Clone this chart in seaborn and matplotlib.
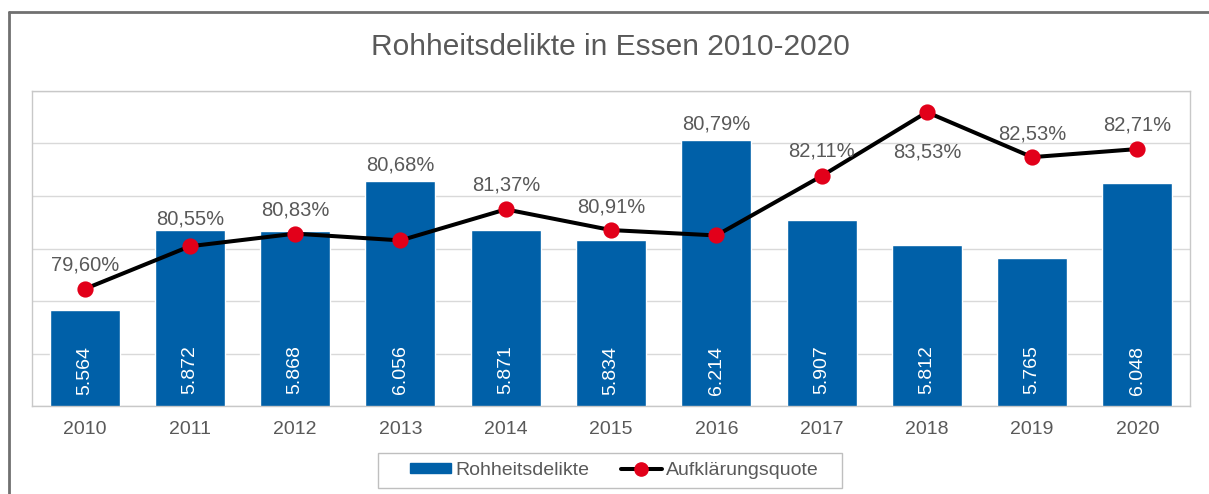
import matplotlib
matplotlib.use('Agg')
import matplotlib.pyplot as plt
from matplotlib.lines import Line2D
from matplotlib.patches import Patch, Rectangle
from matplotlib.ticker import MultipleLocator
import seaborn as sns
import pandas as pd

# Daten
jahre = ['2010', '2011', '2012', '2013', '2014', '2015', '2016', '2017', '2018', '2019', '2020']
delikte = [5564, 5872, 5868, 6056, 5871, 5834, 6214, 5907, 5812, 5765, 6048]
quote = [79.60, 80.55, 80.83, 80.68, 81.37, 80.91, 80.79, 82.11, 83.53, 82.53, 82.71]

# Position der Prozent-Labels (Pixel über dem Punkt), wie im Original verschoben
label_offset = [24, 27, 24, 75, 24, 23, 111, 25, -40, 23, 24]

BLAU = '#0060A8'
ROT = '#E2001A'
GRAU = '#595959'


def main():
    sns.set_style('white')
    plt.rcParams['font.family'] = ['Liberation Sans', 'DejaVu Sans']

    df = pd.DataFrame({'Jahr': jahre, 'Rohheitsdelikte': delikte, 'Quote': quote})

    fig = plt.figure(figsize=(12.09, 4.94), dpi=100)
    ax = fig.add_axes([0.0265, 0.1781, 0.9578, 0.6377])

    #Balken
    sns.barplot(data=df, x='Jahr', y='Rohheitsdelikte', color=BLAU, saturation=1,
                width=0.665, ax=ax, zorder=2)
    ax.set_ylim(5200, 6400)
    ax.yaxis.set_major_locator(MultipleLocator(200))
    ax.grid(axis='y', color='#D9D9D9', lw=1, zorder=0)
    ax.set_axisbelow(True)
    ax.set_xlabel('')
    ax.set_ylabel('')
    ax.tick_params(axis='y', length=0, labelleft=False)
    ax.tick_params(axis='x', length=0, labelsize=14, labelcolor=GRAU, pad=11)
    for s in ax.spines.values():
        s.set_color('#C8C8C8')
        s.set_linewidth(1)

    for i, v in enumerate(delikte):
        ax.annotate(f'{v:,}'.replace(',', '.'), (i, 5200), xytext=(0, 36),
                    textcoords='offset pixels', ha='center', va='center',
                    rotation=90, color='white', fontsize=14)

    #Aufklärungsquote
    ax2 = ax.twinx()
    sns.pointplot(data=df, x='Jahr', y='Quote', color='black', markers='o',
                  ax=ax2, linewidth=2.9, markersize=9.5)
    for ln in ax2.lines:
        ln.set_markerfacecolor(ROT)
        ln.set_markeredgecolor(ROT)
        ln.set_markersize(9.5)
        ln.set_zorder(3)
    ax2.set_ylim(77, 84)
    ax2.set_yticks([])
    ax2.set_ylabel('')
    ax2.set_xlabel('')
    for s in ax2.spines.values():
        s.set_visible(False)

    for i, (q, off) in enumerate(zip(quote, label_offset)):
        ax2.annotate(f'{q:.2f}'.replace('.', ',') + '%', (i, q), xytext=(0, off),
                     textcoords='offset pixels', ha='center', va='center',
                     color=GRAU, fontsize=14.5)

    fig.text(0.5045, 0.905, 'Rohheitsdelikte in Essen 2010-2020', ha='center',
             va='center', fontsize=21.5, color=GRAU)

    #Legende
    handles = [Patch(facecolor=BLAU, edgecolor=BLAU),
               Line2D([], [], color='black', lw=2.9, marker='o', markersize=9.5,
                      markerfacecolor=ROT, markeredgecolor=ROT)]
    fig.legend(handles, ['Rohheitsdelikte', 'Aufklärungsquote'], loc='center',
               bbox_to_anchor=(614.5 / 1209, 1 - 470.5 / 494), ncol=2, fontsize=14,
               frameon=False, handlelength=2.1, handleheight=0.46,
               handletextpad=0.25, columnspacing=1.6, labelcolor=GRAU)
    fig.add_artist(Rectangle((378 / 1209, 1 - 488 / 494), 464 / 1209, 35 / 494,
                             transform=fig.transFigure, fill=False,
                             edgecolor='#BFBFBF', lw=1))

    # Rahmen des Diagrammbereichs (nur oben und links sichtbar)
    fig.add_artist(Line2D([9 / 1209, 9 / 1209], [0, 1 - 12 / 494], color='#707070',
                          lw=2, transform=fig.transFigure))
    fig.add_artist(Line2D([9 / 1209, 1], [1 - 12 / 494, 1 - 12 / 494], color='#707070',
                          lw=2, transform=fig.transFigure))

    fig.savefig('out.png', dpi=100)


if __name__ == '__main__':
    main()
